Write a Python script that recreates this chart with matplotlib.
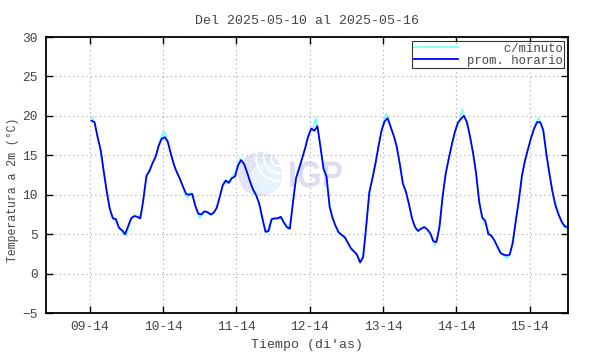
import numpy as np
import pandas as pd
import matplotlib
matplotlib.use('Agg')
import matplotlib.pyplot as plt
import matplotlib.dates as mdates
from matplotlib.patches import Circle, Arc, PathPatch
from matplotlib.textpath import TextPath
from matplotlib.font_manager import FontProperties
from matplotlib.transforms import Affine2D, IdentityTransform

plt.rcParams['font.family'] = ['Liberation Mono', 'DejaVu Sans Mono']

# ---- data ----
title = 'Del 2025-05-10 al 2025-05-16'
hourly_start = '2025-05-09 14:30'
minute_start = '2025-05-09 15:00'

# promedio horario (blue)
temp_hourly = [
    19.4, 19.2, 17.3, 15.7, 13.0, 10.4, 8.2, 7.0, 6.9, 5.8,
    5.5, 5.0, 6.0, 7.0, 7.3, 7.2, 7.0, 9.4, 12.4, 13.0,
    14.0, 14.8, 16.2, 17.1, 17.3, 16.7, 15.2, 13.8, 12.8, 12.0,
    11.0, 10.1, 10.0, 10.1, 8.6, 7.6, 7.5, 7.9, 7.8, 7.5,
    7.7, 8.3, 9.7, 11.2, 11.8, 11.5, 12.1, 12.3, 13.7, 14.4,
    13.9, 12.8, 11.6, 10.6, 9.9, 8.8, 7.0, 5.3, 5.4, 6.9,
    7.0, 7.0, 7.2, 6.5, 5.9, 5.7, 9.0, 12.1, 13.3, 14.6,
    15.9, 17.4, 18.4, 18.1, 18.7, 16.1, 13.3, 12.3, 8.5, 7.0,
    6.0, 5.2, 4.9, 4.6, 3.9, 3.2, 2.8, 2.4, 1.4, 2.1,
    6.0, 10.3, 12.0, 13.9, 16.1, 18.1, 19.3, 19.7, 18.6, 17.5,
    16.1, 13.9, 11.4, 10.4, 8.8, 7.0, 5.9, 5.4, 5.7, 5.9,
    5.6, 5.1, 4.1, 4.0, 5.9, 9.7, 12.6, 14.5, 16.3, 17.9,
    19.1, 19.6, 20.0, 19.2, 17.4, 15.3, 12.7, 9.1, 7.1, 6.7,
    5.0, 4.8, 4.2, 3.4, 2.6, 2.4, 2.3, 2.4, 3.9, 6.7,
    9.3, 12.4, 14.3, 15.8, 17.2, 18.4, 19.2, 19.2, 18.2, 15.2,
    12.7, 10.4, 8.6, 7.5, 6.6, 6.0, 5.9,
]

# c/minuto (cyan), sampled on the hour
temp_minute = [
    19.8, 18.3, 16.5, 14.3, 11.7, 9.3, 7.6, 6.8, 6.3, 5.6,
    5.1, 4.8, 6.5, 7.2, 7.3, 7.0, 7.9, 11.0, 12.9, 13.6,
    14.6, 15.4, 17.0, 18.0, 17.6, 16.0, 14.5, 13.3, 12.4, 11.4,
    10.3, 9.6, 10.3, 9.3, 7.9, 7.0, 7.7, 7.8, 7.6, 7.4,
    8.0, 9.0, 10.6, 11.8, 11.4, 12.0, 12.5, 13.1, 14.6, 14.1,
    13.3, 12.2, 11.1, 10.2, 9.3, 7.8, 6.0, 5.1, 6.3, 7.0,
    6.9, 7.1, 6.9, 6.1, 5.6, 7.4, 10.7, 12.9, 14.1, 15.3,
    16.8, 18.0, 18.5, 19.7, 17.4, 14.6, 12.8, 10.2, 7.7, 6.5,
    5.6, 5.1, 4.7, 4.2, 3.5, 3.0, 2.6, 1.9, 1.6, 4.0,
    8.2, 11.2, 13.0, 15.0, 17.1, 18.9, 20.3, 19.2, 18.0, 16.8,
    15.0, 12.6, 10.9, 9.6, 7.9, 6.4, 5.5, 5.6, 5.8, 5.8,
    5.3, 4.6, 3.5, 4.9, 7.8, 11.2, 13.6, 15.4, 17.1, 18.5,
    19.4, 20.8, 19.6, 18.3, 16.3, 14.0, 10.9, 8.1, 6.5, 5.9,
    4.9, 4.5, 3.8, 3.0, 2.5, 2.1, 2.0, 3.1, 5.3, 8.0,
    10.9, 13.4, 15.0, 16.5, 17.8, 19.1, 19.7, 18.7, 16.7, 13.9,
    11.5, 9.5, 8.4, 7.0, 6.3, 5.7,
]

t_hourly = pd.date_range(hourly_start, periods=len(temp_hourly), freq='h')
t_minute = pd.date_range(minute_start, periods=len(temp_minute), freq='h')

W, H = 590, 354
fig = plt.figure(figsize=(W / 100, H / 100), dpi=100)
ax = fig.add_axes([46 / W, 41 / H, 522 / W, 276 / H])
ax.set_zorder(2)
ax.patch.set_alpha(0)
txt_col = '#444444'

# ---- IGP watermark (pixel coords, origin bottom-left), behind the axes ----
px = IdentityTransform()
fig.patches.append(Circle((260, H - 174), 22, transform=px,
                          facecolor='#e2e4f8', edgecolor='none', zorder=-1))
fig.patches.append(Circle((266, H - 178), 16, transform=px,
                          facecolor='#e6f3fc', edgecolor='none', zorder=-1))
for r in (8, 15, 23):
    fig.patches.append(Arc((279, H - 158), 2 * r, 2 * r, theta1=160, theta2=290,
                           transform=px, color='white', lw=1.4, zorder=-1))
igp = TextPath((0, 0), 'IGP', size=37, prop=FontProperties(family='Liberation Sans', weight='bold'))
fig.patches.append(PathPatch(igp, transform=Affine2D().scale(0.86, 1.0).translate(288, H - 187) + px,
                             facecolor='#dcdcf2', edgecolor='none', zorder=-1))

ax.plot(t_minute, temp_minute, color='#70ffff', lw=1.2, label='     c/minuto')
ax.plot(t_hourly, temp_hourly, color='#0000ff', lw=1.3, label='prom. horario')

ax.set_xlim(pd.Timestamp('2025-05-08 23:36'), pd.Timestamp('2025-05-16 02:36'))
ax.set_ylim(-5, 30)
ax.set_yticks(np.arange(-5, 31, 5))
ax.xaxis.set_major_locator(mdates.HourLocator(byhour=[14]))
ax.xaxis.set_major_formatter(mdates.DateFormatter('%d-%H'))

ax.grid(True, color='#a8a8a8', linestyle=(0, (1, 3)), lw=0.8)
ax.tick_params(direction='in', length=5, width=1, top=True, right=True,
               labelsize=9.3, labelcolor=txt_col, pad=6)
for s in ax.spines.values():
    s.set_linewidth(1.3)

ax.set_title(title, fontsize=9.5, color=txt_col, pad=9)
ax.set_xlabel("Tiempo (di'as)", fontsize=9.5, color=txt_col, labelpad=4)
ax.set_ylabel('Temperatura a 2m (°C)', fontsize=8.3, color=txt_col)
ax.yaxis.set_label_coords(-27 / 522, 0.445)

leg = ax.legend(loc='upper right', fontsize=8.8, frameon=True, fancybox=False,
                borderpad=0.15, handlelength=3.6, handletextpad=0.7, labelspacing=0.0,
                borderaxespad=0.3)
leg.get_frame().set_edgecolor('black')
leg.get_frame().set_linewidth(0.8)
for t in leg.get_texts():
    t.set_color(txt_col)

fig.savefig('out.png', dpi=100)
